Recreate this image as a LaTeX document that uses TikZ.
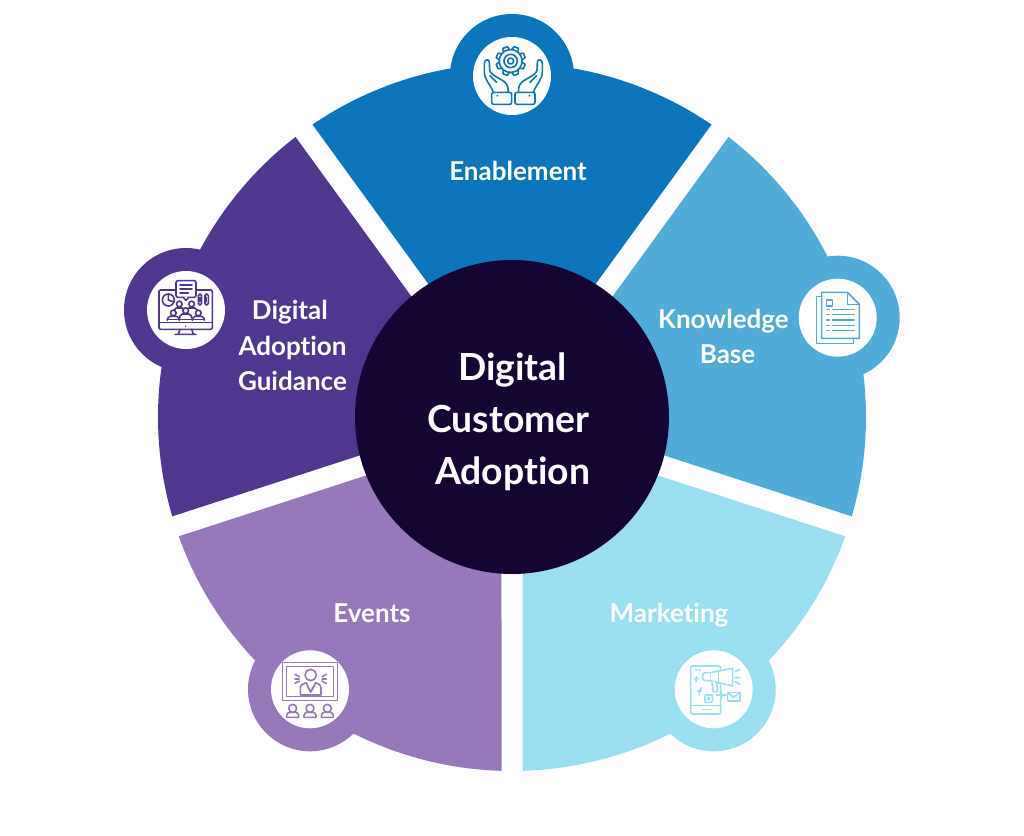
\documentclass[tikz,border=0pt]{standalone}
\usepackage{fontspec}
\setmainfont{Lato}[Ligatures=NoCommon]
\definecolor{cEnable}{HTML}{0C75BC}
\definecolor{cKnow}{HTML}{51ABD9}
\definecolor{cMark}{HTML}{9ADEF2}
\definecolor{cEvent}{HTML}{9778BA}
\definecolor{cGuide}{HTML}{4F3790}
\definecolor{cCore}{HTML}{140533}
\tikzset{
  seglabel/.style={text=white,font=\fontsize{19.5}{26.5}\selectfont\bfseries,align=center,inner sep=0pt},
  corelabel/.style={text=white,font=\fontsize{28}{39}\selectfont\bfseries,align=center,inner sep=0pt},
  iconline/.style={line width=1.2pt,line join=round,line cap=round,fill=none},
}
% wedge: bisector angle, colour
\newcommand{\petal}[2]{%
  \fill[#2] ($(512,417)+(#1:17.9)$) -- ($(512,417)+(#1-34.3:354)$)
     arc[start angle=#1-34.3,end angle=#1+34.3,radius=354] -- cycle;}
\newcommand{\badge}[3]{%
  \fill[#3] (#1,#2) circle[radius=62];
  \fill[white] (#1,#2) circle[radius=39];}
\usetikzlibrary{calc}
\begin{document}
\begin{tikzpicture}[x=.75pt,y=-.75pt]
\useasboundingbox (0,0) rectangle (1024,835);
\fill[white] (0,0) rectangle (1024,835);
\petal{-90}{cEnable}
\petal{-18}{cKnow}
\petal{54}{cMark}
\petal{126}{cEvent}
\petal{198}{cGuide}
\badge{512}{76}{cEnable}
\badge{837.7}{317.7}{cKnow}
\badge{713.7}{689.3}{cMark}
\badge{310}{689.3}{cEvent}
\badge{186}{310}{cGuide}
\node[circle,fill=cCore,minimum size=314*.75pt,inner sep=0pt] (core) at (512,417) {};
\node[corelabel] (coretext) at (508.5,422) {\hspace*{6pt}Digital\\Customer\\\hspace*{6pt}Adoption};
\node[seglabel] (enable) at (518,171) {Enablement};
\node[seglabel] (know) at (723.5,336.5) {Knowledge\\\hspace*{6pt}Base};
\node[seglabel] (mark) at (669,615) {Marketing};
\node[seglabel] (event) at (372,613) {Events};
\node[seglabel] (guide) at (292.5,345.5) {Digital\hspace*{4pt}\\Adoption\hspace*{4pt}\\Guidance};
% Enablement icon
\begin{scope}[shift={(440,5)},x=.25pt,y=-.25pt,cEnable,iconline]
  \foreach \a in {0,45,...,315}{
    \draw[shift={(212,168)},rotate=\a+22.5] (-10,-33) -- (-7,-44) -- (7,-44) -- (10,-33) arc[start angle=-73,end angle=-28,radius=34.5];
  }
  \draw (212,168) circle[radius=20] (212,168) circle[radius=9];
  \foreach \s/\o in {1/0,-1/440}{
    \begin{scope}[shift={(\o,0)},xscale=\s]
      \draw (160,262) .. controls (150,235) and (133,225) .. (133,200) -- (133,175) .. controls (133,163) and (148,160) .. (148,172) -- (149,195) .. controls (150,210) and (185,222) .. (195,232) .. controls (205,242) and (205,252) .. (205,262);
      \draw (150,212) -- (170,232);
      \draw[rounded corners=1.5pt] (155,262) rectangle (215,298);
      \fill (172,272) circle[radius=3];
    \end{scope}
  }
\end{scope}
% Guidance icon
\begin{scope}[shift={(120,240)},x=.25pt,y=-.25pt,cGuide,iconline]
  \draw[rounded corners=1pt] (168,150) -- (117,150) -- (117,268) -- (277,268) -- (277,150) -- (228,150);
  \draw (117,248) -- (277,248);
  \draw (180,268) -- (175,282) (215,268) -- (220,282) (165,283) -- (228,283);
  \fill (197,258) circle[radius=2.5];
  \draw[rounded corners=1.5pt] (168,122) rectangle (228,172);
  \fill[white] (190,170) -- (198,181) -- (206,170) -- cycle;
  \draw (190,172) -- (198,181) -- (206,172);
  \draw (180,135) -- (216,135) (180,147) -- (216,147) (180,159) -- (205,159);
  \draw (145,180) circle[radius=18];
  \draw (145,180) -- (145,162) (145,180) -- (162,186);
  \draw[rounded corners=1.2pt] (235,162) rectangle (245,195);
  \draw[rounded corners=1.2pt] (255,162) rectangle (265,195);
  \draw (240,172) -- (240,185) (260,172) -- (260,185);
  \foreach \h/\b in {178/192,215/192}{
    \draw (\h,\b) circle[radius=8.5];
    \draw[rounded corners=1.5pt] (\h-17,\b+25) -- (\h-15,\b+12) -- (\h+15,\b+12) -- (\h+17,\b+25);
  }
  \foreach \h/\b in {160/219,197/212,235/219}{
    \fill[white] (\h-17,\b+10) rectangle (\h+17,\b+24);
    \draw[fill=white] (\h,\b) circle[radius=8.5];
    \draw[rounded corners=1.5pt] (\h-18,\b+22) -- (\h-16,\b+10) -- (\h+16,\b+10) -- (\h+18,\b+22);
  }
  \draw (142,239) -- (252,239);
\end{scope}
% Knowledge icon
\begin{scope}[shift={(770,250)},x=.25pt,y=-.25pt,cKnow,iconline]
  \draw (155,140) -- (140,140) -- (140,280) -- (250,280) -- (250,265);
  \draw (232,127) -- (155,127) -- (155,265) -- (268,265) -- (268,163) -- cycle;
  \draw (232,127) -- (232,163) -- (268,163);
  \draw (170,150) rectangle (188,168);
  \foreach \y in {178,194,210,226,241}{
    \draw (170,\y) -- (177,\y) (188,\y) -- (252,\y);
  }
\end{scope}
% Marketing icon
\begin{scope}[shift={(650,630)},x=.25pt,y=-.25pt,cMark,iconline]
  \draw[rounded corners=1.5pt] (122,108) rectangle (212,252);
  \draw (122,227) -- (212,227) (157,239) -- (183,239);
  \draw (138,120) -- (141,120) (148,120) -- (151,120);
  \draw[fill=white] (180,128) -- (248,115) -- (248,168) -- (180,152) -- cycle;
  \draw (205,122) -- (205,160);
  \draw[fill=white] (180,128) -- (165,128) .. controls (155,128) and (155,152) .. (165,152) -- (180,152);
  \draw[fill=white] (185,153) -- (190,185) -- (203,185) -- (200,157);
  \draw (255,125) -- (270,118) (255,143) -- (270,143) (255,155) -- (268,163);
  \draw[fill=white] (232,187) rectangle (270,213);
  \draw (232,187) -- (251,202) -- (270,187);
  \draw (200,195) -- (228,195) (213,185) -- (213,205);
  \draw[rounded corners=.7pt] (165,195) rectangle (187,217);
  \draw (176,206) circle[radius=4];
  \draw (140,140) -- (138,156) (133,146) -- (145,146);
  \draw (155,174) .. controls (148,174) and (149,180) .. (148,195) (143,183) -- (155,183);
\end{scope}
% Events icon
\begin{scope}[shift={(240,630)},x=.25pt,y=-.25pt,cEvent,iconline]
  \draw (127,97) rectangle (293,212);
  \draw (140,110) rectangle (280,200);
  \draw (212,135) circle[radius=17];
  \draw (181,195) -- (181,175) .. controls (181,165) and (190,160) .. (198,158) -- (212,186) -- (227,158) .. controls (235,160) and (243,165) .. (243,175) -- (243,195) -- cycle;
  \draw (203,170) -- (212,186) -- (221,170);
  \draw (165,133) -- (178,140) (165,147) -- (178,147) (165,160) -- (178,153);
  \draw (259,133) -- (246,140) (259,147) -- (246,147) (259,160) -- (246,153);
  \foreach \h in {158,210,262}{
    \draw (\h,235) circle[radius=12];
    \draw (\h-18,262) -- (\h-18,256) .. controls (\h-18,250) and (\h-12,247) .. (\h-8,247) -- (\h+8,247) .. controls (\h+12,247) and (\h+18,250) .. (\h+18,256) -- (\h+18,262) -- cycle;
  }
\end{scope}
\end{tikzpicture}
\end{document}
